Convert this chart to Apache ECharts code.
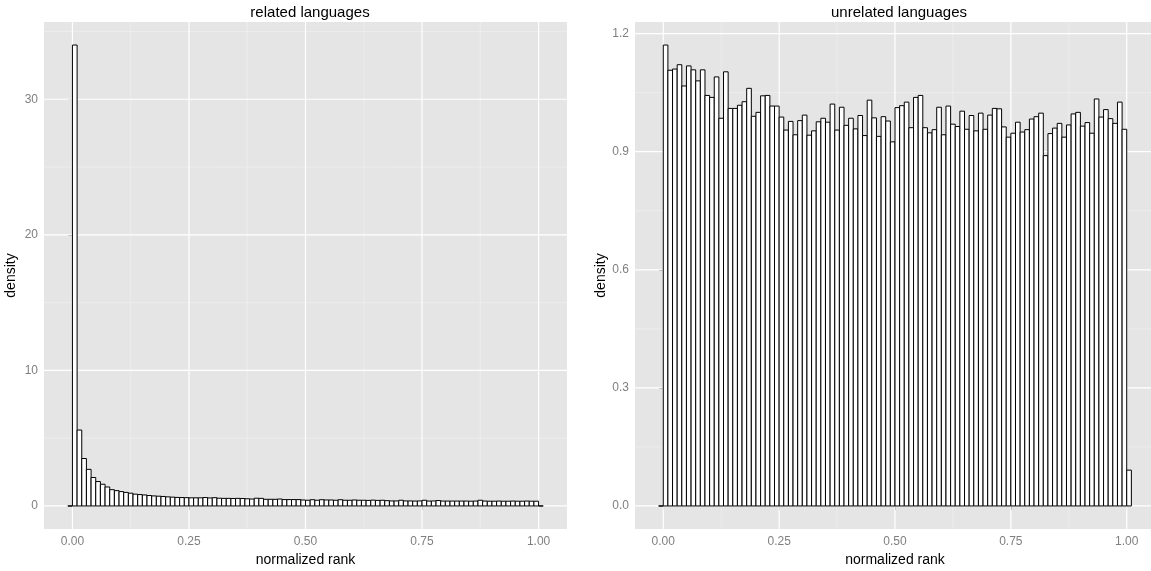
<!DOCTYPE html>
<html>
<head>
<meta charset="utf-8">
<script src="https://cdn.jsdelivr.net/npm/echarts@6/dist/echarts.min.js"></script>
<style>
  html, body { margin: 0; padding: 0; background: #ffffff; }
  #chart { width: 1151px; height: 571px; }
</style>
</head>
<body>
<div id="chart"></div>
<script>
// Histogram bins: width 0.01, the first bin starts at -0.01 (102 bins in total)
const binStart = -0.01;
const binWidth = 0.01;

// Density per bin, related language pairs
const relatedDensity = [
  0,
  34.0, 5.6, 3.5, 2.7, 2.1, 1.8, 1.6, 1.4, 1.2, 1.13,
  1.06, 1.0, 0.94, 0.87, 0.84, 0.81, 0.77, 0.74, 0.72, 0.70,
  0.67, 0.65, 0.63, 0.62, 0.61, 0.60, 0.60, 0.60, 0.62, 0.59,
  0.61, 0.57, 0.56, 0.56, 0.55, 0.56, 0.55, 0.53, 0.51, 0.57,
  0.56, 0.49, 0.49, 0.49, 0.51, 0.47, 0.47, 0.47, 0.47, 0.44,
  0.42, 0.46, 0.42, 0.46, 0.44, 0.44, 0.42, 0.46, 0.42, 0.42,
  0.44, 0.42, 0.42, 0.41, 0.43, 0.41, 0.42, 0.39, 0.37, 0.37,
  0.42, 0.37, 0.37, 0.36, 0.37, 0.42, 0.36, 0.37, 0.40, 0.36,
  0.36, 0.36, 0.36, 0.36, 0.36, 0.35, 0.36, 0.42, 0.36, 0.35,
  0.35, 0.36, 0.35, 0.35, 0.36, 0.35, 0.35, 0.36, 0.35, 0.35,
  0
];

// Density per bin, unrelated language pairs
const unrelatedDensity = [
  0,
  1.171, 1.107, 1.110, 1.121, 1.067, 1.118, 1.108, 1.080, 1.108, 1.043,
  1.038, 1.090, 0.985, 1.103, 1.010, 1.010, 1.018, 1.027, 1.061, 0.990,
  1.000, 1.042, 1.043, 1.016, 1.016, 0.988, 0.955, 0.977, 0.943, 0.979,
  0.993, 0.942, 0.953, 0.976, 0.985, 0.975, 1.021, 0.955, 1.013, 0.967,
  0.985, 0.958, 0.992, 0.941, 1.031, 0.986, 0.939, 0.989, 0.978, 0.925,
  1.012, 1.017, 1.026, 0.961, 1.038, 1.043, 0.961, 0.948, 0.956, 1.013,
  0.943, 1.016, 0.970, 0.964, 1.003, 0.957, 0.992, 0.953, 0.998, 0.957,
  0.993, 1.010, 1.009, 0.963, 0.937, 0.947, 0.975, 0.950, 0.956, 0.983,
  0.989, 0.998, 0.890, 0.946, 0.960, 0.972, 0.937, 0.968, 0.996, 1.000,
  0.965, 0.974, 0.947, 1.034, 0.988, 1.007, 0.984, 0.972, 1.026, 0.957,
  0.091
];

// Axis breaks
const xTicks = [0, 0.25, 0.5, 0.75, 1];
const xMinor = [0.125, 0.375, 0.625, 0.875];
const relatedYTicks = [0, 10, 20, 30];
const relatedYMinor = [5, 15, 25, 35];
const unrelatedYTicks = [0, 0.3, 0.6, 0.9, 1.2];
const unrelatedYMinor = [0.15, 0.45, 0.75, 1.05];

const panelTitles = ['related languages', 'unrelated languages'];
const xTitle = 'normalized rank';
const yTitle = 'density';

const FONT = '"Liberation Sans", Arial, Helvetica, sans-serif';
const TICK_GREY = '#7F7F7F';

function binsOf(values) {
  return values.map((d, i) => {
    const x0 = binStart + i * binWidth;
    return [x0, x0 + binWidth, d];
  });
}

// expand a continuous range by 5% on each side
function expand(lo, hi) {
  const pad = (hi - lo) * 0.05;
  return [lo - pad, hi + pad];
}

const xEdges = [binStart, binStart + relatedDensity.length * binWidth];
const xRange = expand(xEdges[0], xEdges[1]);
const relatedRange = expand(0, Math.max(...relatedDensity));
const unrelatedRange = expand(0, Math.max(...unrelatedDensity));

function gridItems(yMajor, yMinor) {
  const items = [];
  yMinor.forEach(v => items.push([v, 0, 0]));
  xMinor.forEach(v => items.push([v, 1, 0]));
  yMajor.forEach(v => items.push([v, 0, 1]));
  xTicks.forEach(v => items.push([v, 1, 1]));
  return items;
}

function renderGridLine(params, api) {
  const cs = params.coordSys;
  const v = api.value(0);
  const vertical = api.value(1) === 1;
  const major = api.value(2) === 1;
  let shape;
  if (vertical) {
    const x = api.coord([v, 0])[0];
    shape = { x1: x, y1: cs.y, x2: x, y2: cs.y + cs.height };
  } else {
    const y = api.coord([0, v])[1];
    shape = { x1: cs.x, y1: y, x2: cs.x + cs.width, y2: y };
  }
  return {
    type: 'line',
    shape: shape,
    style: { stroke: major ? '#FFFFFF' : '#F2F2F2', lineWidth: major ? 1.2 : 0.6 }
  };
}

function renderBar(params, api) {
  const top = api.coord([api.value(0), api.value(2)]);
  const bottom = api.coord([api.value(1), 0]);
  return {
    type: 'rect',
    shape: { x: top[0], y: top[1], width: bottom[0] - top[0], height: bottom[1] - top[1] },
    style: { fill: '#FFFFFF', stroke: '#000000', lineWidth: 1 }
  };
}

function xAxisFor(idx) {
  return {
    type: 'value', gridIndex: idx,
    min: xRange[0], max: xRange[1],
    axisLine: { show: false },
    splitLine: { show: false },
    axisTick: { show: true, customValues: xTicks, length: 4, lineStyle: { color: TICK_GREY, width: 1 } },
    axisLabel: {
      customValues: xTicks, margin: 7, color: TICK_GREY, fontSize: 12, fontFamily: FONT,
      formatter: v => v.toFixed(2)
    },
    name: xTitle, nameLocation: 'middle', nameGap: 19,
    nameTextStyle: { color: '#000000', fontSize: 14, fontFamily: FONT }
  };
}

function yAxisFor(idx, range, ticks, digits) {
  return {
    type: 'value', gridIndex: idx,
    min: range[0], max: range[1],
    axisLine: { show: false },
    splitLine: { show: false },
    axisTick: { show: true, customValues: ticks, length: 4, lineStyle: { color: TICK_GREY, width: 1 } },
    axisLabel: {
      customValues: ticks, margin: 6, color: TICK_GREY, fontSize: 12, fontFamily: FONT,
      formatter: v => v.toFixed(digits)
    },
    name: yTitle, nameLocation: 'middle', nameGap: 26, nameRotate: 90,
    nameTextStyle: { color: '#000000', fontSize: 14, fontFamily: FONT }
  };
}

const chart = echarts.init(document.getElementById('chart'), null, { renderer: 'canvas' });

chart.setOption({
  animation: false,
  backgroundColor: '#FFFFFF',
  title: [
    { text: panelTitles[0], left: 305, top: 0, textAlign: 'center',
      textStyle: { fontSize: 15, fontWeight: 'normal', color: '#000000', fontFamily: FONT } },
    { text: panelTitles[1], left: 894, top: 0, textAlign: 'center',
      textStyle: { fontSize: 15, fontWeight: 'normal', color: '#000000', fontFamily: FONT } }
  ],
  grid: [
    { left: 44, top: 22, width: 523, height: 507, show: true, backgroundColor: '#E5E5E5',
      borderWidth: 0, containLabel: false, outerBoundsMode: 'none' },
    { left: 635, top: 22, width: 520, height: 507, show: true, backgroundColor: '#E5E5E5',
      borderWidth: 0, containLabel: false, outerBoundsMode: 'none' }
  ],
  xAxis: [xAxisFor(0), xAxisFor(1)],
  yAxis: [
    yAxisFor(0, relatedRange, relatedYTicks, 0),
    yAxisFor(1, unrelatedRange, unrelatedYTicks, 1)
  ],
  series: [
    { type: 'custom', xAxisIndex: 0, yAxisIndex: 0, z: 1, silent: true,
      renderItem: renderGridLine, data: gridItems(relatedYTicks, relatedYMinor) },
    { type: 'custom', xAxisIndex: 1, yAxisIndex: 1, z: 1, silent: true,
      renderItem: renderGridLine, data: gridItems(unrelatedYTicks, unrelatedYMinor) },
    { type: 'custom', name: panelTitles[0], xAxisIndex: 0, yAxisIndex: 0, z: 2,
      renderItem: renderBar, encode: { x: [0, 1], y: 2 }, data: binsOf(relatedDensity) },
    { type: 'custom', name: panelTitles[1], xAxisIndex: 1, yAxisIndex: 1, z: 2,
      renderItem: renderBar, encode: { x: [0, 1], y: 2 }, data: binsOf(unrelatedDensity) }
  ]
});
</script>
</body>
</html>
